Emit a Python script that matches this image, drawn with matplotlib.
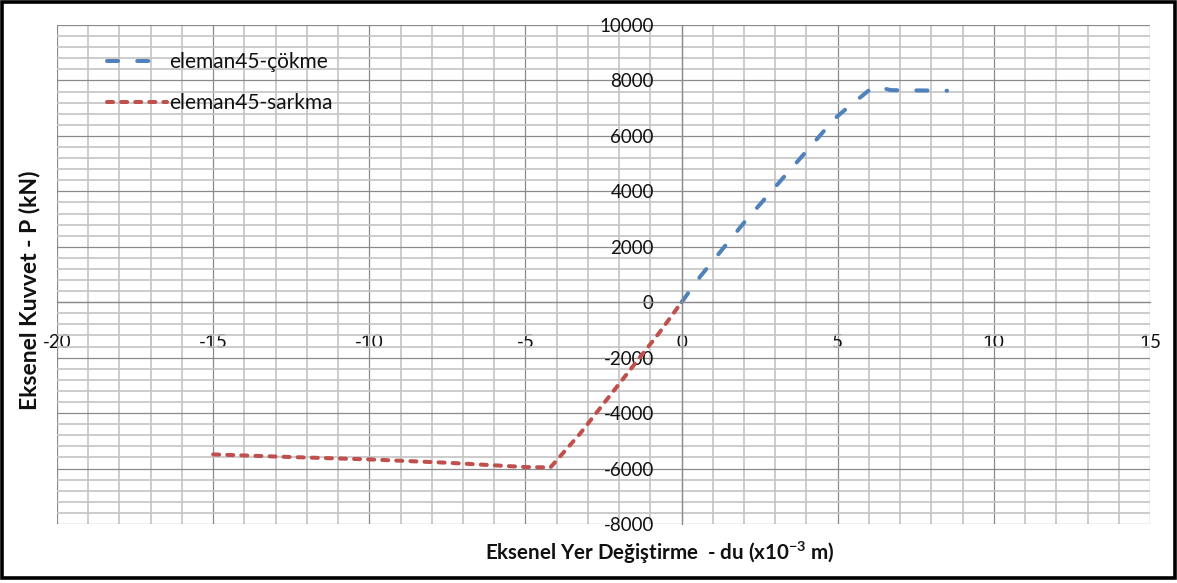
import matplotlib
matplotlib.use("Agg")
import matplotlib.pyplot as plt
from matplotlib.ticker import MultipleLocator
from matplotlib.patches import Rectangle

# Axial load - displacement curves for element 45
du_cokme = [0, 0.6, 2.0, 4.0, 4.9, 5.4, 5.8, 6.05, 6.25, 6.45, 6.7, 8.5]
p_cokme = [0, 930, 2870, 5450, 6620, 7100, 7460, 7690, 7770, 7720, 7650, 7630]

du_sarkma = [-15, -12.5, -10, -7.5, -5, -4.2, -3.25, -0.7, 0]
p_sarkma = [-5490, -5585, -5670, -5790, -5945, -5960, -4740, -1080, 0]

label_cokme = "eleman45-çökme"
label_sarkma = "eleman45-sarkma"

plt.rcParams["font.family"] = ["Lato", "DejaVu Sans"]
plt.rcParams["axes.unicode_minus"] = False
plt.rcParams["mathtext.fontset"] = "custom"
plt.rcParams["mathtext.rm"] = "Lato:bold"
plt.rcParams["mathtext.bf"] = "Lato:bold"
plt.rcParams["mathtext.it"] = "Lato:bold"

W, H = 1177, 583
fig = plt.figure(figsize=(W / 100, H / 100), dpi=100)
ax = fig.add_axes([57 / W, 1 - 524 / H, (1150 - 57) / W, (524 - 25) / H])

ax.set_xlim(-20, 15)
ax.set_ylim(-8000, 10000)
ax.xaxis.set_major_locator(MultipleLocator(5))
ax.xaxis.set_minor_locator(MultipleLocator(1))
ax.yaxis.set_major_locator(MultipleLocator(2000))
ax.yaxis.set_minor_locator(MultipleLocator(400))

major_c = "#8a8a8a"
minor_c = "#c4c4c4"
ax.grid(which="minor", color=minor_c, linewidth=1.2)
ax.grid(which="major", color=major_c, linewidth=0.9)
ax.set_axisbelow(True)

for side in ("top", "right"):
    ax.spines[side].set_visible(False)
ax.spines["left"].set_position(("data", 0))
ax.spines["bottom"].set_position(("data", 0))
for side in ("left", "bottom"):
    ax.spines[side].set_color(major_c)
    ax.spines[side].set_linewidth(0.9)

ax.tick_params(which="both", length=0)
ax.tick_params(axis="y", pad=20, labelsize=13.5, labelcolor="#111111")
ax.tick_params(axis="x", pad=23, labelsize=13.5, labelcolor="#111111")

lw = 2.9
l1, = ax.plot(du_cokme, p_cokme, color="#4F81BD", linewidth=lw,
              solid_capstyle="round", dash_capstyle="round", label=label_cokme)
l1.set_dashes((2.75, 4.75))
l2, = ax.plot(du_sarkma, p_sarkma, color="#C0504D", linewidth=lw,
              solid_capstyle="round", dash_capstyle="round", label=label_sarkma)
l2.set_dashes((1.5, 2.0))

leg = ax.legend(loc="upper left", bbox_to_anchor=(50 / 1093, 1 - 27 / 499),
                frameon=False, fontsize=15, handlelength=2.9, handletextpad=0.1,
                labelspacing=1.0, borderaxespad=0, borderpad=0)
for t in leg.get_texts():
    t.set_color("#111111")

fig.text(660 / W, 1 - 553 / H, r"Eksenel Yer Değiştirme  - du (x10$^{-3}$ m)",
         ha="center", va="center", fontsize=14.8, fontweight="bold", color="#111111")
fig.text(30 / W, 1 - 290 / H, "Eksenel Kuvvet - P (kN)", rotation=90,
         ha="center", va="center", fontsize=16.5, fontweight="bold", color="#111111")

fig.patches.append(Rectangle((2 / W, 5.5 / H), (1174.5 - 2) / W, (581 - 5.5) / H,
                             transform=fig.transFigure, fill=False,
                             edgecolor="black", linewidth=2.6))

fig.savefig("out.png", dpi=100)
